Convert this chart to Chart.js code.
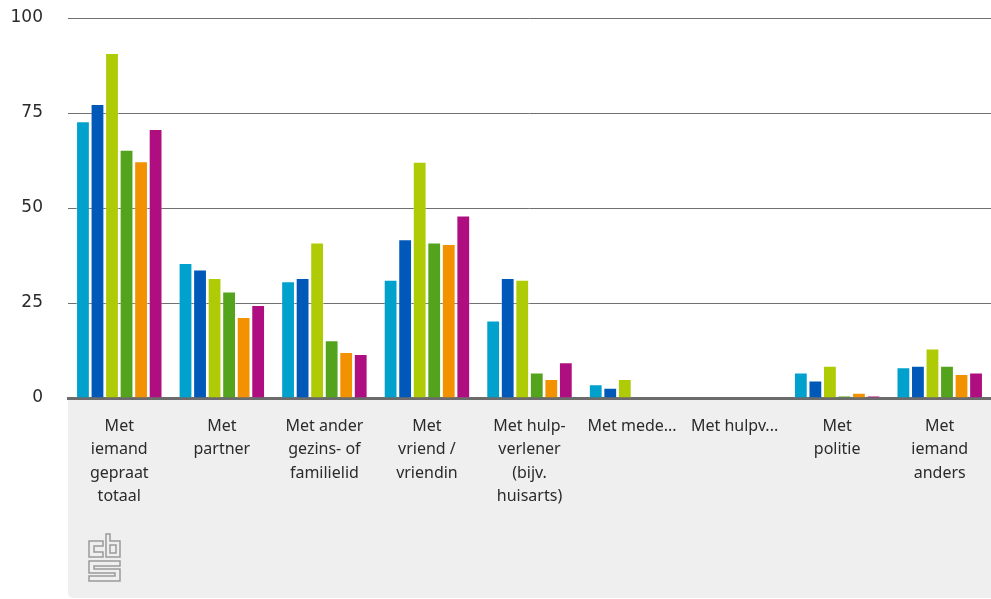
<!DOCTYPE html>
<html>
<head>
<meta charset="utf-8">
<script src="https://cdn.jsdelivr.net/npm/chart.js@4/dist/chart.umd.min.js"></script>
<style>
  html, body { margin: 0; padding: 0; background: #fff; }
  #wrap { width: 991px; height: 599px; }
</style>
</head>
<body>
<div id="wrap"><canvas id="chart" width="991" height="599"></canvas></div>
<script>
// --- data ---
const categories = [
    ['Met', 'iemand', 'gepraat', 'totaal'],
    ['Met', 'partner'],
    ['Met ander', 'gezins- of', 'familielid'],
    ['Met', 'vriend /', 'vriendin'],
    ['Met hulp-', 'verlener', '(bijv.', 'huisarts)'],
    'Met mede...',
    'Met hulpv...',
    ['Met', 'politie'],
    ['Met', 'iemand', 'anders']
];
const yTicks = [0, 25, 50, 75, 100];

const serie1 = [72.8, 35.5, 30.7, 31.1, 20.4, 3.6, null, 6.7, 8.1];
const serie2 = [77.4, 33.8, 31.6, 41.8, 31.6, 2.7, null, 4.6, 8.5];
const serie3 = [90.8, 31.6, 40.9, 62.2, 31.1, 5.0, null, 8.5, 13.0];
const serie4 = [65.3, 28.0, 15.2, 40.9, 6.7, null, null, 0.6, 8.5];
const serie5 = [62.3, 21.3, 12.1, 40.5, 5.0, null, null, 1.4, 6.3];
const serie6 = [70.8, 24.5, 11.6, 48.0, 9.4, null, null, 0.6, 6.7];

const colors = ['#00a1cd', '#0058b8', '#afcb05', '#53a31d', '#f39200', '#af0e80'];

// gray box under the axis + cbs logo
const footerPlugin = {
    id: 'footer',
    beforeDraw(chart) {
        const { ctx, chartArea } = chart;
        ctx.save();
        ctx.fillStyle = '#efefef';
        ctx.beginPath();
        ctx.roundRect(chartArea.left, chartArea.bottom, chartArea.right - chartArea.left, chart.height - chartArea.bottom - 1, [0, 0, 0, 5]);
        ctx.fill();

        // logo
        ctx.strokeStyle = '#9a9a9a';
        ctx.lineWidth = 1.5;
        ctx.beginPath();
        // c
        ctx.moveTo(103, 541); ctx.lineTo(89, 541); ctx.lineTo(89, 557); ctx.lineTo(103, 557);
        ctx.lineTo(103, 552); ctx.lineTo(94, 552); ctx.lineTo(94, 546); ctx.lineTo(103, 546); ctx.closePath();
        // b
        ctx.moveTo(106, 534); ctx.lineTo(110, 534); ctx.lineTo(110, 541); ctx.lineTo(120, 541);
        ctx.lineTo(120, 557); ctx.lineTo(106, 557); ctx.closePath();
        ctx.rect(110, 545, 6, 8);
        // s
        ctx.moveTo(89, 561); ctx.lineTo(120, 561); ctx.lineTo(120, 566); ctx.lineTo(94, 566);
        ctx.lineTo(94, 569); ctx.lineTo(120, 569); ctx.lineTo(120, 581); ctx.lineTo(89, 581);
        ctx.lineTo(89, 576); ctx.lineTo(115, 576); ctx.lineTo(115, 573); ctx.lineTo(89, 573); ctx.closePath();
        ctx.stroke();
        ctx.restore();
    }
};

const seriesList = [serie1, serie2, serie3, serie4, serie5, serie6];

new Chart(document.getElementById('chart'), {
    type: 'bar',
    data: {
        labels: categories,
        datasets: seriesList.map((s, i) => ({
            label: 'Reeks ' + (i + 1),
            data: s,
            backgroundColor: colors[i],
            borderColor: 'rgba(255,255,255,0.35)',
            borderWidth: 1,
            borderSkipped: 'bottom',
            barPercentage: 0.95,
            categoryPercentage: 0.85
        }))
    },
    options: {
        responsive: false,
        animation: false,
        layout: { padding: { top: 18, right: 0, left: 0, bottom: 0 } },
        plugins: {
            legend: { display: false },
            tooltip: { enabled: false }
        },
        scales: {
            x: {
                grid: { display: false },
                border: { display: true, color: '#6b6b6b', width: 3 },
                ticks: {
                    color: '#2b2b2b',
                    font: { family: 'Noto Sans', size: 16, lineHeight: 1.45 },
                    padding: 9,
                    maxRotation: 0,
                    autoSkip: false
                },
                afterFit(scale) {
                    scale.height = 201;
                    scale.paddingTop = 0;
                    scale.paddingBottom = 0;
                }
            },
            y: {
                min: 0,
                max: 100,
                afterBuildTicks(scale) { scale.ticks = yTicks.map(v => ({ value: v })); },
                grid: { color: '#707070', lineWidth: 1, drawTicks: false },
                border: { display: false },
                ticks: {
                    color: '#2b2b2b',
                    font: { family: 'DejaVu Sans', size: 17 },
                    padding: 25
                },
                afterFit(scale) {
                    scale.width = 68;
                    scale.paddingTop = 0;
                    scale.paddingBottom = 0;
                }
            }
        }
    },
    plugins: [footerPlugin]
});
</script>
</body>
</html>
